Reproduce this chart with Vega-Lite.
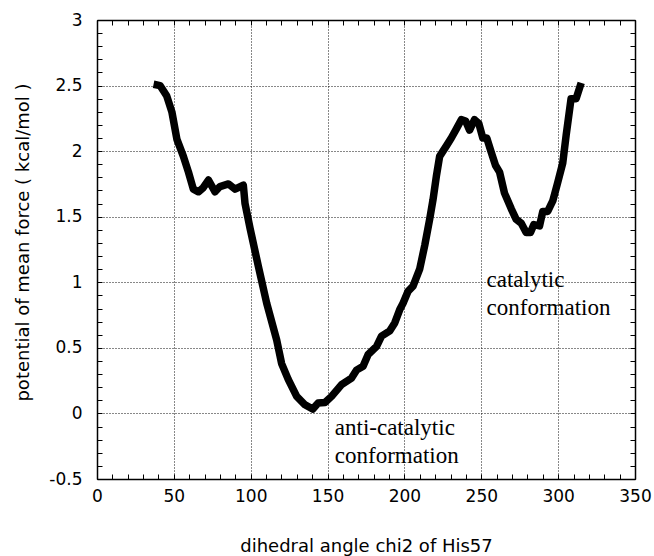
{
  "$schema": "https://vega.github.io/schema/vega-lite/v6.json",
  "autosize": "none",
  "width": 538,
  "height": 459,
  "padding": {"left": 97, "top": 20, "right": 19, "bottom": 77},
  "background": "white",
  "config": {
    "view": {"stroke": null},
    "axis": {"labelFont": "DejaVu Sans", "titleFont": "DejaVu Sans", "labelColor": "black", "titleColor": "black", "domainColor": "black", "tickColor": "black", "titleFontWeight": "normal"}
  },
  "datasets": {
    "pmf": [
      {"chi2": 36.8, "pmf": 2.51}, {"chi2": 41, "pmf": 2.5}, {"chi2": 45.4, "pmf": 2.42}, {"chi2": 48.7, "pmf": 2.3},
      {"chi2": 52, "pmf": 2.09}, {"chi2": 56.2, "pmf": 1.96}, {"chi2": 59.5, "pmf": 1.84}, {"chi2": 62.7, "pmf": 1.71},
      {"chi2": 66, "pmf": 1.69}, {"chi2": 69, "pmf": 1.72}, {"chi2": 72.5, "pmf": 1.78}, {"chi2": 76.8, "pmf": 1.69},
      {"chi2": 80, "pmf": 1.73}, {"chi2": 85.5, "pmf": 1.75}, {"chi2": 89.8, "pmf": 1.71}, {"chi2": 95.2, "pmf": 1.74},
      {"chi2": 96.3, "pmf": 1.6}, {"chi2": 99.6, "pmf": 1.41}, {"chi2": 105, "pmf": 1.12}, {"chi2": 110.4, "pmf": 0.84},
      {"chi2": 116.9, "pmf": 0.56}, {"chi2": 120.1, "pmf": 0.38}, {"chi2": 124.4, "pmf": 0.26}, {"chi2": 129.9, "pmf": 0.13},
      {"chi2": 135.3, "pmf": 0.066}, {"chi2": 140.3, "pmf": 0.033}, {"chi2": 143.9, "pmf": 0.079}, {"chi2": 148.3, "pmf": 0.083},
      {"chi2": 152.6, "pmf": 0.13}, {"chi2": 159.1, "pmf": 0.22}, {"chi2": 165.6, "pmf": 0.27}, {"chi2": 168.8, "pmf": 0.33},
      {"chi2": 173.1, "pmf": 0.36}, {"chi2": 176.4, "pmf": 0.45}, {"chi2": 181.8, "pmf": 0.51}, {"chi2": 185.1, "pmf": 0.59},
      {"chi2": 190.5, "pmf": 0.63}, {"chi2": 193.7, "pmf": 0.69}, {"chi2": 196.9, "pmf": 0.79}, {"chi2": 199.1, "pmf": 0.84},
      {"chi2": 202.3, "pmf": 0.93}, {"chi2": 205.6, "pmf": 0.97}, {"chi2": 209.9, "pmf": 1.1}, {"chi2": 213.2, "pmf": 1.28},
      {"chi2": 216.4, "pmf": 1.48}, {"chi2": 218.6, "pmf": 1.63}, {"chi2": 220.8, "pmf": 1.81}, {"chi2": 222.9, "pmf": 1.96},
      {"chi2": 227.3, "pmf": 2.04}, {"chi2": 230.5, "pmf": 2.1}, {"chi2": 233.8, "pmf": 2.17}, {"chi2": 237, "pmf": 2.24},
      {"chi2": 239.8, "pmf": 2.23}, {"chi2": 242.4, "pmf": 2.16}, {"chi2": 245.6, "pmf": 2.24}, {"chi2": 248.4, "pmf": 2.21},
      {"chi2": 251, "pmf": 2.1}, {"chi2": 253.6, "pmf": 2.1}, {"chi2": 256.5, "pmf": 1.99}, {"chi2": 259.3, "pmf": 1.89},
      {"chi2": 261.9, "pmf": 1.84}, {"chi2": 265.1, "pmf": 1.68}, {"chi2": 269.5, "pmf": 1.56}, {"chi2": 272.7, "pmf": 1.48},
      {"chi2": 276, "pmf": 1.45}, {"chi2": 279.2, "pmf": 1.38}, {"chi2": 282, "pmf": 1.38}, {"chi2": 284.2, "pmf": 1.44},
      {"chi2": 287.9, "pmf": 1.43}, {"chi2": 290, "pmf": 1.54}, {"chi2": 293.2, "pmf": 1.54}, {"chi2": 296.5, "pmf": 1.62},
      {"chi2": 299.7, "pmf": 1.76}, {"chi2": 303, "pmf": 1.91}, {"chi2": 305.2, "pmf": 2.12}, {"chi2": 308.4, "pmf": 2.4},
      {"chi2": 311.7, "pmf": 2.4}, {"chi2": 315, "pmf": 2.52}
    ],
    "notes": [
      {"chi2": 253.4, "pmf": 0.967, "text": "catalytic"},
      {"chi2": 253.4, "pmf": 0.753, "text": "conformation"},
      {"chi2": 154.7, "pmf": -0.164, "text": "anti-catalytic"},
      {"chi2": 154.7, "pmf": -0.377, "text": "conformation"}
    ]
  },
  "resolve": {"axis": {"x": "independent", "y": "independent"}},
  "layer": [
    {
      "data": {"name": "pmf"},
      "mark": {"type": "line", "color": "black", "strokeWidth": 7.5, "strokeJoin": "round", "strokeCap": "butt"},
      "encoding": {
        "x": {
          "field": "chi2", "type": "quantitative",
          "scale": {"domain": [0, 350], "nice": false, "zero": false},
          "axis": {
            "orient": "bottom",
            "title": "dihedral angle chi2 of His57",
            "titleFontSize": 18, "titlePadding": 33,
            "values": [0,10,20,30,40,50,60,70,80,90,100,110,120,130,140,150,160,170,180,190,200,210,220,230,240,250,260,270,280,290,300,310,320,330,340,350],
            "labelExpr": "datum.value % 50 === 0 ? '' + datum.value : ''",
            "labelFontSize": 17, "labelPadding": 14, "labelFlush": false, "labelOverlap": false,
            "tickSize": -5, "tickWidth": 1,
            "domainWidth": 1.5,
            "grid": true, "gridColor": "#111", "gridDash": [1, 2], "gridWidth": 1,
            "gridOpacity": {"condition": {"test": "datum.value % 50 === 0", "value": 1}, "value": 0}
          }
        },
        "y": {
          "field": "pmf", "type": "quantitative",
          "scale": {"domain": [-0.5, 3], "nice": false, "zero": false},
          "axis": {
            "orient": "left",
            "title": "potential of mean force  (  kcal/mol  )",
            "titleFontSize": 18, "titlePadding": 16, "titleY": 222,
            "values": [-0.5,-0.4,-0.3,-0.2,-0.1,0,0.1,0.2,0.3,0.4,0.5,0.6,0.7,0.8,0.9,1,1.1,1.2,1.3,1.4,1.5,1.6,1.7,1.8,1.9,2,2.1,2.2,2.3,2.4,2.5,2.6,2.7,2.8,2.9,3],
            "labelExpr": "round(datum.value * 10) % 5 === 0 ? '' + datum.value : ''",
            "labelFontSize": 17, "labelPadding": 20, "labelFlush": false, "labelOverlap": false,
            "tickSize": -5, "tickWidth": 1,
            "domainWidth": 1.5,
            "grid": true, "gridColor": "#111", "gridDash": [1, 2], "gridWidth": 1,
            "gridOpacity": {"condition": {"test": "round(datum.value * 10) % 5 === 0", "value": 1}, "value": 0}
          }
        }
      }
    },
    {
      "data": {"name": "notes"},
      "mark": {"type": "text", "font": "Liberation Serif", "fontSize": 23, "align": "left", "baseline": "alphabetic", "color": "black"},
      "encoding": {
        "x": {
          "field": "chi2", "type": "quantitative",
          "axis": {
            "orient": "top", "title": null, "labels": false, "grid": false,
            "values": [0,10,20,30,40,50,60,70,80,90,100,110,120,130,140,150,160,170,180,190,200,210,220,230,240,250,260,270,280,290,300,310,320,330,340,350],
            "tickSize": -5, "tickWidth": 1, "domainWidth": 1.5
          }
        },
        "y": {
          "field": "pmf", "type": "quantitative",
          "axis": {
            "orient": "right", "title": null, "labels": false, "grid": false,
            "values": [-0.5,-0.4,-0.3,-0.2,-0.1,0,0.1,0.2,0.3,0.4,0.5,0.6,0.7,0.8,0.9,1,1.1,1.2,1.3,1.4,1.5,1.6,1.7,1.8,1.9,2,2.1,2.2,2.3,2.4,2.5,2.6,2.7,2.8,2.9,3],
            "tickSize": -5, "tickWidth": 1, "domainWidth": 1.5
          }
        },
        "text": {"field": "text"}
      }
    }
  ]
}
